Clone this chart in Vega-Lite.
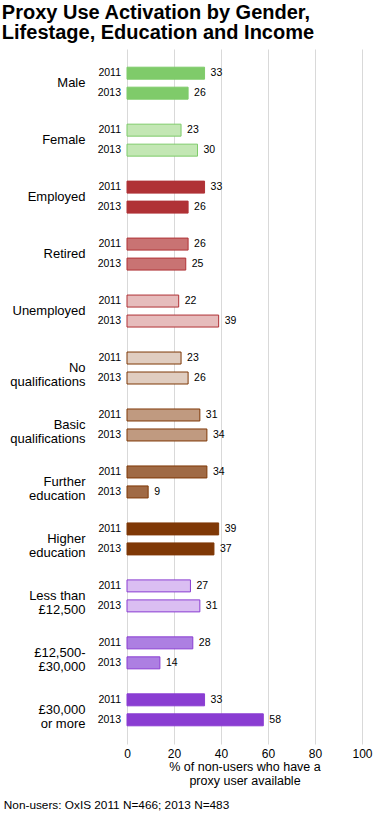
{
  "$schema": "https://vega.github.io/schema/vega-lite/v6.json",
  "padding": {"left": 1, "top": 3, "right": 5, "bottom": 5},
  "background": "white",
  "title": {
    "text": ["Proxy Use Activation by Gender,", "Lifestage, Education and Income"],
    "anchor": "start",
    "fontSize": 20,
    "lineHeight": 20,
    "fontWeight": "bold",
    "font": "Liberation Sans",
    "color": "#000000",
    "offset": 6,
    "dx": -2
  },
  "config": {
    "font": "Liberation Sans",
    "view": {"stroke": null},
    "axis": {"labelColor": "#000000", "titleColor": "#000000"}
  },
  "vconcat": [
    {
      "title": {
        "text": "Non-users: OxIS 2011 N=466; 2013 N=483",
        "orient": "bottom",
        "anchor": "start",
        "fontSize": 11.8,
        "fontWeight": "normal",
        "font": "Liberation Sans",
        "color": "#000000",
        "offset": 13,
        "dx": -6
      },
      "data": {
        "values": [
          {"group": "Male", "year": "2011", "value": 33},
          {"group": "Male", "year": "2013", "value": 26},
          {"group": "Female", "year": "2011", "value": 23},
          {"group": "Female", "year": "2013", "value": 30},
          {"group": "Employed", "year": "2011", "value": 33},
          {"group": "Employed", "year": "2013", "value": 26},
          {"group": "Retired", "year": "2011", "value": 26},
          {"group": "Retired", "year": "2013", "value": 25},
          {"group": "Unemployed", "year": "2011", "value": 22},
          {"group": "Unemployed", "year": "2013", "value": 39},
          {"group": "No|qualifications", "year": "2011", "value": 23},
          {"group": "No|qualifications", "year": "2013", "value": 26},
          {"group": "Basic|qualifications", "year": "2011", "value": 31},
          {"group": "Basic|qualifications", "year": "2013", "value": 34},
          {"group": "Further|education", "year": "2011", "value": 34},
          {"group": "Further|education", "year": "2013", "value": 9},
          {"group": "Higher|education", "year": "2011", "value": 39},
          {"group": "Higher|education", "year": "2013", "value": 37},
          {"group": "Less than|£12,500", "year": "2011", "value": 27},
          {"group": "Less than|£12,500", "year": "2013", "value": 31},
          {"group": "£12,500-|£30,000", "year": "2011", "value": 28},
          {"group": "£12,500-|£30,000", "year": "2013", "value": 14},
          {"group": "£30,000|or more", "year": "2011", "value": 33},
          {"group": "£30,000|or more", "year": "2013", "value": 58}
        ]
      },
      "width": 235,
      "height": 695,
      "encoding": {
        "y": {
          "field": "group",
          "type": "nominal",
          "sort": ["Male", "Female", "Employed", "Retired", "Unemployed", "No|qualifications", "Basic|qualifications", "Further|education", "Higher|education", "Less than|£12,500", "£12,500-|£30,000", "£30,000|or more"],
          "scale": {"paddingInner": 0, "paddingOuter": 0.1},
          "axis": {
            "title": null,
            "domain": false,
            "ticks": false,
            "grid": false,
            "labelPadding": 42,
            "labelFontSize": 13,
            "labelLineHeight": 14,
            "labelAlign": "right",
            "labelBaseline": "middle",
            "labelExpr": "split(datum.label, '|')"
          }
        },
        "yOffset": {
          "field": "year",
          "type": "ordinal",
          "scale": {"paddingInner": 0.4, "paddingOuter": 0.625}
        }
      },
      "layer": [
        {
          "mark": {"type": "bar", "strokeWidth": 1},
          "encoding": {
            "x": {
              "field": "value",
              "type": "quantitative",
              "scale": {"domain": [0, 100]},
              "axis": {
                "values": [0, 20, 40, 60, 80, 100],
                "domain": false,
                "ticks": false,
                "tickSize": 0,
                "labelPadding": 4,
                "labelFlush": false,
                "labelFontSize": 12,
                "grid": true,
                "gridColor": "#d9d9d9",
                "gridWidth": 1,
                "title": ["% of non-users who have a", "proxy user available"],
                "titleFontSize": 12.5,
                "titleFontWeight": "normal",
                "titleLineHeight": 14,
                "titlePadding": 1
              }
            },
            "fill": {
              "field": "group",
              "type": "nominal",
              "legend": null,
              "scale": {
                "domain": ["Male", "Female", "Employed", "Retired", "Unemployed", "No|qualifications", "Basic|qualifications", "Further|education", "Higher|education", "Less than|£12,500", "£12,500-|£30,000", "£30,000|or more"],
                "range": ["#7fcb6a", "#c3e7b4", "#b03236", "#c97373", "#e6bcbc", "#e0cdc0", "#c09a80", "#a06a45", "#7f3806", "#dabef2", "#ad7fe2", "#8a3dd2"]
              }
            },
            "stroke": {
              "field": "group",
              "type": "nominal",
              "legend": null,
              "scale": {
                "domain": ["Male", "Female", "Employed", "Retired", "Unemployed", "No|qualifications", "Basic|qualifications", "Further|education", "Higher|education", "Less than|£12,500", "£12,500-|£30,000", "£30,000|or more"],
                "range": ["#7fcb6a", "#7fcb6a", "#b03236", "#b03236", "#b03236", "#7f3806", "#7f3806", "#7f3806", "#7f3806", "#8a3dd2", "#8a3dd2", "#8a3dd2"]
              }
            }
          }
        },
        {
          "mark": {"type": "text", "align": "left", "baseline": "middle", "dx": 6, "fontSize": 10.5, "color": "#000000"},
          "encoding": {
            "x": {"field": "value", "type": "quantitative"},
            "text": {"field": "value", "type": "quantitative"}
          }
        },
        {
          "mark": {"type": "text", "align": "right", "baseline": "middle", "dx": -6, "fontSize": 10.5, "color": "#000000"},
          "encoding": {
            "x": {"datum": 0, "type": "quantitative"},
            "text": {"field": "year", "type": "nominal"}
          }
        }
      ]
    }
  ]
}
